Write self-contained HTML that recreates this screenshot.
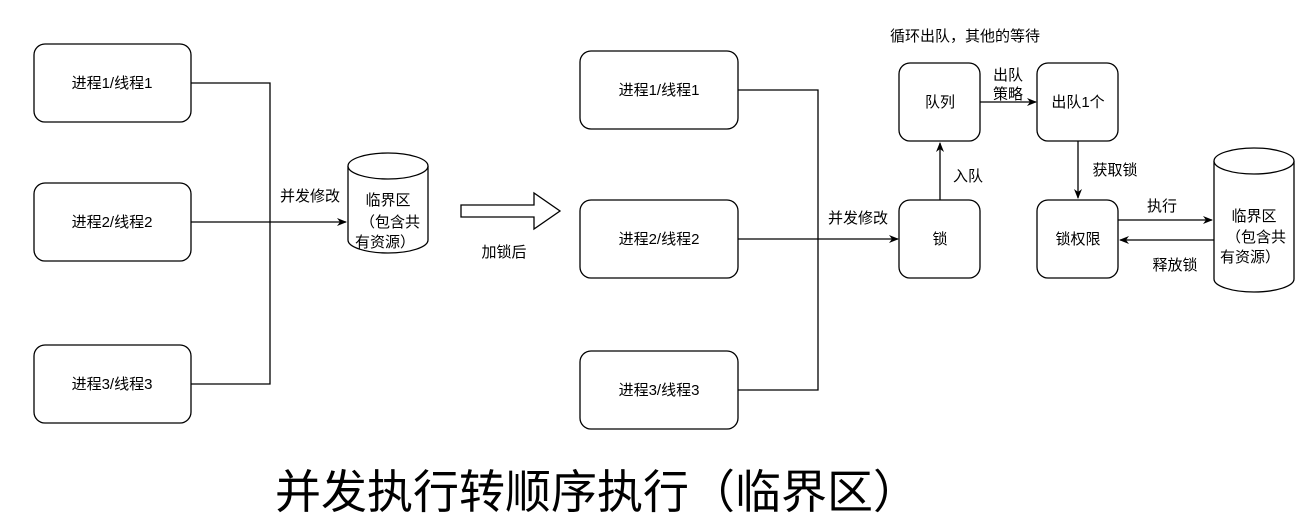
<!DOCTYPE html>
<html><head><meta charset="utf-8"><style>
body{margin:0;background:#fff;}
svg text{font-family:"Liberation Sans","Noto Sans CJK SC",sans-serif;fill:#000;}
</style></head><body>
<svg width="1313" height="522" viewBox="0 0 1313 522" xmlns="http://www.w3.org/2000/svg">
<defs><marker id="a" markerWidth="10" markerHeight="10" refX="9" refY="5" orient="auto" markerUnits="userSpaceOnUse"><path d="M0,1 L10,5 L0,9 L3,5 Z" fill="#000"/></marker></defs>
<g fill="#fff" stroke="#000" stroke-width="1.3">
<rect x="34" y="44" width="157" height="78" rx="11"/>
<rect x="34" y="183" width="157" height="78" rx="11"/>
<rect x="34" y="345" width="157" height="78" rx="11"/>
<rect x="580" y="51" width="158" height="78" rx="11"/>
<rect x="580" y="200" width="158" height="78" rx="11"/>
<rect x="580" y="351" width="158" height="78" rx="11"/>
<rect x="899" y="63" width="81" height="78" rx="11"/>
<rect x="899" y="200" width="81" height="78" rx="11"/>
<rect x="1037" y="63" width="81" height="78" rx="11"/>
<rect x="1037" y="200" width="81" height="78" rx="11"/>
<path d="M348,166 A40,13 0 0 1 428,166 L428,240 A40,13 0 0 1 348,240 Z"/>
<path d="M348,166 A40,13 0 0 0 428,166"/>
<path d="M1214,161 A40,13 0 0 1 1294,161 L1294,279 A40,13 0 0 1 1214,279 Z"/>
<path d="M1214,161 A40,13 0 0 0 1294,161"/>
<path d="M461,205 L534,205 L534,193 L560,211 L534,229 L534,217 L461,217 Z"/>
</g>
<g fill="none" stroke="#000" stroke-width="1.3">
<path d="M191,83 H270 V384 H191"/>
<path d="M191,222 H346" marker-end="url(#a)"/>
<path d="M738,90 H818 V390 H738"/>
<path d="M738,239 H898" marker-end="url(#a)"/>
<path d="M940,200 V143" marker-end="url(#a)"/>
<path d="M980,102 H1036" marker-end="url(#a)"/>
<path d="M1078,141 V198" marker-end="url(#a)"/>
<path d="M1118,220 H1212" marker-end="url(#a)"/>
<path d="M1214,240 H1120" marker-end="url(#a)"/>
</g>
<g font-size="15" text-anchor="middle">
<text x="112" y="88">进程1/线程1</text>
<text x="112" y="227">进程2/线程2</text>
<text x="112" y="389">进程3/线程3</text>
<text x="659" y="95">进程1/线程1</text>
<text x="659" y="244">进程2/线程2</text>
<text x="659" y="395">进程3/线程3</text>
<text x="940" y="107">队列</text>
<text x="940" y="244">锁</text>
<text x="1078" y="107">出队1个</text>
<text x="1078" y="244">锁权限</text>
<text x="388" y="205">临界区</text>
<text x="390" y="227">（包含共</text>
<text x="385" y="247">有资源）</text>
<text x="1254" y="221">临界区</text>
<text x="1256" y="242">（包含共</text>
<text x="1250" y="262">有资源）</text>
<text x="310" y="201">并发修改</text>
<text x="504" y="257">加锁后</text>
<text x="858" y="223">并发修改</text>
<text x="968" y="181">入队</text>
<text x="1008" y="80">出队</text>
<text x="1008" y="99">策略</text>
<text x="1115" y="175">获取锁</text>
<text x="1162" y="211">执行</text>
<text x="1175" y="270">释放锁</text>
<text x="965" y="41">循环出队，其他的等待</text>
</g>
<text x="597" y="508" font-size="46" text-anchor="middle">并发执行转顺序执行（临界区）</text>
</svg>
</body></html>
